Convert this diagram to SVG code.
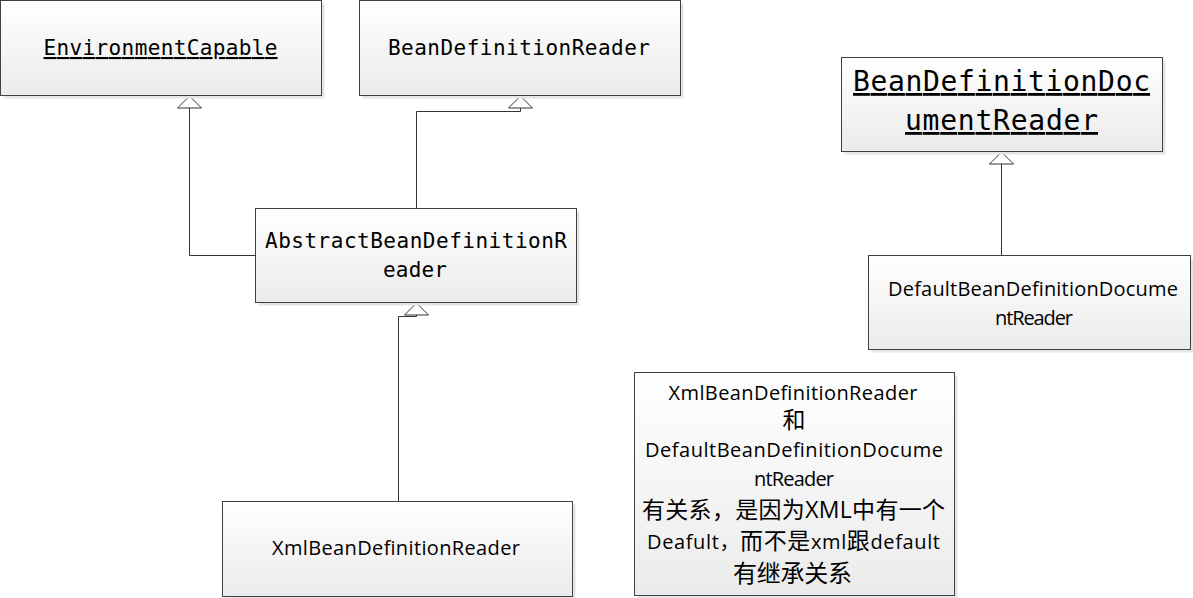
<svg xmlns="http://www.w3.org/2000/svg" width="1193" height="598" viewBox="0 0 1193 598">
<style>
.shadow{fill:#e4e4e4;}
.box{fill:url(#g);stroke:#404040;stroke-width:1;}
.mono{font-family:"DejaVu Sans Mono","Liberation Mono",monospace;fill:#000;text-anchor:middle;}
.sans{font-family:"Open Sans","Noto Sans CJK SC",sans-serif;fill:#000;text-anchor:middle;}
.u{text-decoration:underline;}
.conn{fill:none;stroke:#333;stroke-width:1;marker-end:url(#tri);}
</style>
<defs>
<linearGradient id="g" x1="0" y1="0" x2="0" y2="1">
<stop offset="0" stop-color="#ffffff"/>
<stop offset="1" stop-color="#ebebeb"/>
</linearGradient>
<marker id="tri" markerUnits="userSpaceOnUse" viewBox="-14 -14 16 28" refX="0" refY="0" markerWidth="16" markerHeight="28" orient="auto" overflow="visible">
<path d="M0,0 L-12,-12 L-12,12 Z" fill="#fff" stroke="#333" stroke-width="1"/>
</marker>
</defs>
<rect width="1193" height="598" fill="#fff"/>

<g id="connectors">
<path class="conn" d="M255,255.5 H189.5 V96"/>
<path class="conn" d="M416.5,208 V111.5 H520.5 V96"/>
<path class="conn" d="M398.5,501 V316.5 H416.5 V303"/>
<path class="conn" d="M1001.5,255 V152"/>
</g>

<g id="EnvironmentCapable">
<rect class="shadow" x="3.5" y="3.5" width="321" height="95"/>
<rect class="box" x="0.5" y="0.5" width="321" height="95"/>
<text class="mono u" x="160.5" y="55" font-size="21" textLength="234" lengthAdjust="spacing">EnvironmentCapable</text>
</g>

<g id="BeanDefinitionReader">
<rect class="shadow" x="362.5" y="3.5" width="321" height="95"/>
<rect class="box" x="359.5" y="0.5" width="321" height="95"/>
<text class="mono" x="519" y="55" font-size="21" textLength="262" lengthAdjust="spacing">BeanDefinitionReader</text>
</g>

<g id="BeanDefinitionDocumentReader">
<rect class="shadow" x="844.5" y="60.5" width="321" height="94"/>
<rect class="box" x="841.5" y="57.5" width="321" height="94"/>
<text class="mono u" x="1001.5" y="91" font-size="28" textLength="297" lengthAdjust="spacing">BeanDefinitionDoc</text>
<text class="mono u" x="1001.5" y="130" font-size="28" textLength="193" lengthAdjust="spacing">umentReader</text>
</g>

<g id="AbstractBeanDefinitionReader">
<rect class="shadow" x="258.5" y="211.5" width="321" height="94"/>
<rect class="box" x="255.5" y="208.5" width="321" height="94"/>
<text class="mono" x="416" y="248" font-size="21" textLength="302" lengthAdjust="spacing">AbstractBeanDefinitionR</text>
<text class="mono" x="415" y="277" font-size="21" textLength="64" lengthAdjust="spacing">eader</text>
</g>

<g id="XmlBeanDefinitionReader">
<rect class="shadow" x="225.5" y="504.5" width="350" height="95"/>
<rect class="box" x="222.5" y="501.5" width="350" height="95"/>
<text class="sans" x="396" y="555" font-size="20" textLength="248" lengthAdjust="spacing">XmlBeanDefinitionReader</text>
</g>

<g id="DefaultBeanDefinitionDocumentReader">
<rect class="shadow" x="871.5" y="258.5" width="322" height="94"/>
<rect class="box" x="868.5" y="255.5" width="322" height="94"/>
<text class="sans" x="1033" y="296" font-size="20" textLength="290" lengthAdjust="spacing">DefaultBeanDefinitionDocume</text>
<text class="sans" x="1034" y="325" font-size="20" textLength="78" lengthAdjust="spacing">ntReader</text>
</g>

<g id="note">
<rect class="shadow" x="637.5" y="375.5" width="320" height="223"/>
<rect class="box" x="634.5" y="372.5" width="320" height="223"/>
<text class="sans" x="793" y="400" font-size="20" textLength="249" lengthAdjust="spacing">XmlBeanDefinitionReader</text>
<text class="sans" x="794" y="428" font-size="23">和</text>
<text class="sans" x="794" y="457" font-size="20" textLength="298" lengthAdjust="spacing">DefaultBeanDefinitionDocume</text>
<text class="sans" x="794" y="486" font-size="20" textLength="80" lengthAdjust="spacing">ntReader</text>
<text class="sans" x="793.5" y="518" font-size="23" textLength="303" lengthAdjust="spacing">有关系，是因为XML中有一个</text>
<text class="sans" x="793.5" y="549" font-size="20" textLength="293" lengthAdjust="spacing">Deafult，<tspan font-size="23">而不是</tspan>xml<tspan font-size="23">跟</tspan>default</text>
<text class="sans" x="792.5" y="582" font-size="24" textLength="119" lengthAdjust="spacing">有继承关系</text>
</g>
</svg>
